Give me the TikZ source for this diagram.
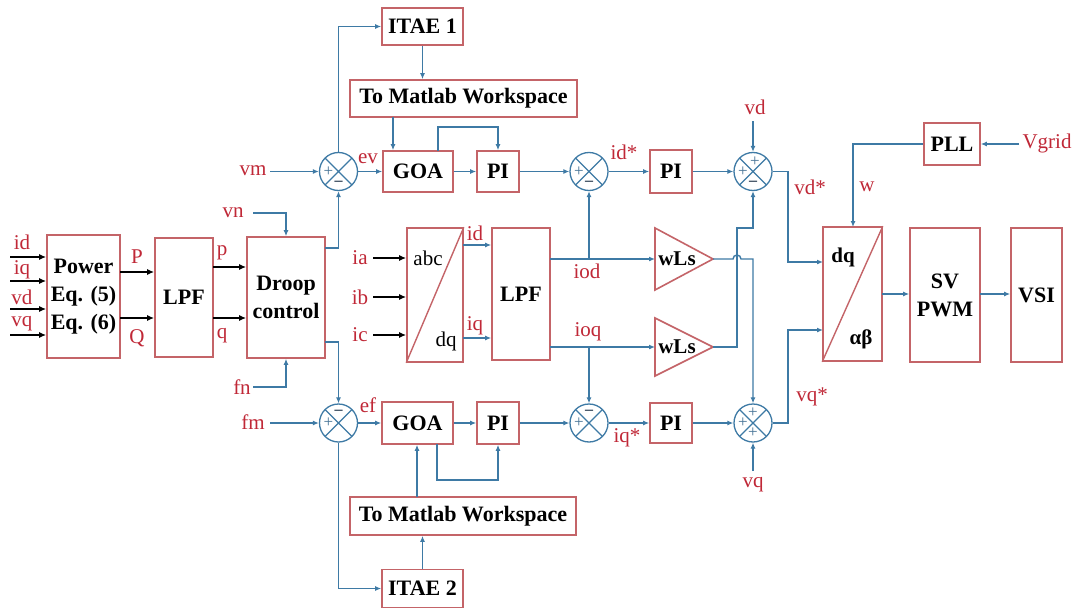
\documentclass[tikz,border=0pt]{standalone}
\usepackage{fontspec}
\setmainfont{Liberation Serif}
\usetikzlibrary{arrows.meta,calc}
\definecolor{boxred}{RGB}{196,100,104}
\definecolor{lblred}{RGB}{192,40,55}
\definecolor{lnblue}{RGB}{62,122,165}
\definecolor{sgnc}{RGB}{70,115,150}
\definecolor{mnc}{RGB}{40,60,80}
\begin{document}
\begin{tikzpicture}[x=1pt,y=-1pt,
 box/.style={draw=boxred,line width=1.6pt,inner sep=0pt,align=center,font=\fontsize{22}{28}\selectfont\bfseries},
 lbl/.style={text=lblred,inner sep=0pt,font=\fontsize{21}{23}\selectfont},
 txt/.style={inner sep=0pt,font=\fontsize{21}{23}\selectfont},
 btxt/.style={inner sep=0pt,font=\fontsize{21}{23}\selectfont\bfseries},
 arr/.style={draw=lnblue,line width=1.4pt,-{Latex[length=6pt,width=5pt]}},
 barr/.style={draw=black,line width=1.5pt,-{Latex[length=7pt,width=6pt]}},
 sumc/.style={circle,draw=lnblue,line width=1.3pt,minimum size=38pt,inner sep=0pt,
   path picture={\draw[lnblue,line width=1.1pt] (path picture bounding box.north west) -- (path picture bounding box.south east)
   (path picture bounding box.south west) -- (path picture bounding box.north east);}},
 sgn/.style={text=sgnc,inner sep=0pt,font=\fontsize{17}{17}\selectfont},
 mns/.style={text=mnc,inner sep=0pt,font=\fontsize{16}{16}\selectfont\bfseries},
]
\path[use as bounding box,fill=white] (0,0) rectangle (1076,610);

% boxes
\node[box,minimum width=73pt,minimum height=123pt] (pow) at (83.5,296.5) {Power\\Eq. (5)\\Eq. (6)};
\node[box,minimum width=58pt,minimum height=119pt] (lpfa) at (184,297.5) {LPF};
\node[box,minimum width=78pt,minimum height=121pt] (droop) at (286,297.5) {Droop\\control};
\node[box,minimum width=81pt,minimum height=37pt] (itaea) at (422.5,26.5) {ITAE 1};
\node[box,minimum width=227pt,minimum height=37pt] (mata) at (463.5,98.5) {To Matlab Workspace};
\node[box,minimum width=70pt,minimum height=41pt] (goaa) at (418,171.5) {GOA};
\node[box,minimum width=42pt,minimum height=41pt] (pia) at (498,171.5) {PI};
\node[box,minimum width=42pt,minimum height=43pt] (pib) at (671,171.5) {PI};
\node[box,minimum width=71pt,minimum height=42pt] (goab) at (417.5,423) {GOA};
\node[box,minimum width=42pt,minimum height=42pt] (pic) at (498,423) {PI};
\node[box,minimum width=226pt,minimum height=38pt] (matb) at (463,516) {To Matlab Workspace};
\node[box,minimum width=81pt,minimum height=38pt] (itaeb) at (422.5,588.5) {ITAE 2};
\node[box,minimum width=42pt,minimum height=40pt] (pid) at (671,423) {PI};
\node[box,minimum width=56pt,minimum height=134pt] (abc) at (435,295) {};
\node[box,minimum width=58pt,minimum height=132pt] (lpfb) at (521,294) {LPF};
\node[box,minimum width=56pt,minimum height=42pt] (pll) at (952,144) {PLL};
\node[box,minimum width=59pt,minimum height=134pt] (dqab) at (852.5,294) {};
\node[box,minimum width=70pt,minimum height=134pt] (svpwm) at (945,295) {SV\\PWM};
\node[box,minimum width=51pt,minimum height=134pt] (vsi) at (1036.5,295) {VSI};

\draw[draw=boxred,line width=1.4pt] (abc.south west) -- (abc.north east);
\draw[draw=boxred,line width=1.4pt] (dqab.south west) -- (dqab.north east);
\node[txt] (tabc) at (428,258) {abc};
\node[txt] (tdq) at (446,341) {dq};
\node[btxt] (tdq2) at (843,257) {dq};
\node[btxt] (tab) at (861,339) {αβ};

% triangles
\draw[draw=boxred,line width=1.6pt] (655,228) -- (713,259) -- (655,290) -- cycle;
\draw[draw=boxred,line width=1.6pt] (655,318) -- (713,347) -- (655,376) -- cycle;
\node[btxt] (wla) at (677,259) {wLs};
\node[btxt] (wlb) at (677,347) {wLs};
\coordinate (wlain) at (655,259);
\coordinate (wlaout) at (713,259);
\coordinate (wlbin) at (655,347);
\coordinate (wlbout) at (713,347);

% sums
\node[sumc] (sa) at (338.5,171.5) {};
\node[sumc] (sb) at (589,171.5) {};
\node[sumc] (sc) at (753,171.5) {};
\node[sumc] (sd) at (338.5,423) {};
\node[sumc] (se) at (589,423) {};
\node[sumc] (sf) at (753,423) {};
\node[sgn] at ([xshift=-10pt]sa.center) {+};
\node[mns] at ([yshift=-12pt]sa.center) {–};
\node[sgn] at ([xshift=-10pt]sb.center) {+};
\node[mns] at ([yshift=-12pt]sb.center) {–};
\node[sgn] at ([xshift=-10pt]sc.center) {+};
\node[sgn] at ([xshift=2pt,yshift=10pt]sc.center) {+};
\node[mns] at ([yshift=-12pt]sc.center) {–};
\node[sgn] at ([xshift=-10pt]sd.center) {+};
\node[mns] at ([yshift=11pt]sd.center) {–};
\node[sgn] at ([xshift=-10pt]se.center) {+};
\node[mns] at ([yshift=11pt]se.center) {–};
\node[sgn] at ([xshift=-10pt]sf.center) {+};
\node[sgn] at ([yshift=10pt]sf.center) {+};
\node[sgn] at ([yshift=-10pt]sf.center) {+};

% left inputs
\node[lbl] at (22,242) {id};
\node[lbl] at (22,270) {iq};
\node[lbl] at (22,297) {vd};
\node[lbl] at (22,324) {vq};
\coordinate (ina) at (10,257);
\coordinate (inb) at (10,281);
\coordinate (inc) at (10,309);
\coordinate (ind) at (10,335);
\draw[barr] (ina) -- (ina -| pow.west);
\draw[barr] (inb) -- (inb -| pow.west);
\draw[barr] (inc) -- (inc -| pow.west);
\draw[barr] (ind) -- (ind -| pow.west);

\coordinate (pP) at (120,272);
\coordinate (pQ) at (120,318);
\draw[barr] (pP) -- (pP -| lpfa.west);
\draw[barr] (pQ) -- (pQ -| lpfa.west);
\node[lbl] at (137,257) {P};
\node[lbl] at (137,338) {Q};
\coordinate (lp) at (213,267);
\coordinate (lq) at (213,318);
\draw[barr] (lp) -- (lp -| droop.west);
\draw[barr] (lq) -- (lq -| droop.west);
\node[lbl] at (222,253) {p};
\node[lbl] at (222,336) {q};

% vn, fn
\node[lbl] (vn) at (233,213) {vn};
\node[lbl] (fn) at (242,387) {fn};
\coordinate (vnin) at (253,213);
\coordinate (fnin) at (253,387);
\draw[arr] (vnin) -| (droop.north);
\draw[arr] (fnin) -| (droop.south);

% droop outputs
\coordinate (dra) at (325,248);
\coordinate (drb) at (325,342);
\draw[arr] (dra) -| (sa.south);
\draw[arr] (drb) -| (sd.north);

% vm, fm
\node[lbl] (vm) at (253,171) {vm};
\node[lbl] (fm) at (253,422) {fm};
\coordinate (vmin) at (270,171.5);
\coordinate (fmin) at (270,423);
\draw[arr] (vmin) -- (sa.west);
\draw[arr] (fmin) -- (sd.west);

% top row
\draw[arr] (sa.east) -- (goaa.west);
\node[lbl] at (368,159) {ev};
\draw[arr] (sa.north) |- (itaea.west);
\draw[arr] (itaea.south) -- (itaea.south |- mata.north);
\coordinate (mao) at (393,117);
\draw[arr] (mao) -- (mao |- goaa.north);
\draw[arr] (goaa) -- (pia);
\coordinate (gaf) at (438,151);
\draw[arr] (gaf) -- (438,127) -| (pia.north);
\draw[arr] (pia.east) -- (sb.west);
\draw[arr] (sb.east) -- (pib.west);
\node[lbl] at (624,152) {id*};
\draw[arr] (pib.east) -- (sc.west);
\node[lbl] (vdt) at (755,107) {vd};
\coordinate (vdin) at (753,121);
\draw[arr] (vdin) -- (sc.north);
\coordinate (dqina) at (823,262);
\draw[arr] (sc.east) -- (788,171.5) |- (dqina);
\node[lbl] at (810,187) {vd*};

% bottom row
\draw[arr] (sd.east) -- (goab.west);
\node[lbl] at (368,405) {ef};
\draw[arr] (sd.south) |- (itaeb.west);
\draw[arr] (itaeb.north) -- (itaeb.north |- matb.south);
\coordinate (mbo) at (417,497);
\draw[arr] (mbo) -- (mbo |- goab.south);
\draw[arr] (goab) -- (pic);
\coordinate (gbf) at (437,444);
\draw[arr] (gbf) -- (437,480) -| (pic.south);
\draw[arr] (pic.east) -- (se.west);
\draw[arr] (se.east) -- (pid.west);
\node[lbl] at (627,438) {iq*};
\draw[arr] (pid.east) -- (sf.west);
\node[lbl] (vqt) at (753,485) {vq};
\coordinate (vqin) at (753,471);
\draw[arr] (vqin) -- (sf.south);
\coordinate (dqinb) at (823,330);
\draw[arr] (sf.east) -- (788,423) |- (dqinb);
\node[lbl] at (812,397) {vq*};

% middle
\node[lbl] at (360,258) {ia};
\node[lbl] at (360,297) {ib};
\node[lbl] at (360,335) {ic};
\coordinate (iaa) at (373,258);
\coordinate (iba) at (373,297);
\coordinate (ica) at (373,335);
\draw[barr] (iaa) -- (iaa -| abc.west);
\draw[barr] (iba) -- (iba -| abc.west);
\draw[barr] (ica) -- (ica -| abc.west);
\coordinate (abid) at (463,245);
\coordinate (abiq) at (463,338);
\draw[arr] (abid) -- (abid -| lpfb.west);
\draw[arr] (abiq) -- (abiq -| lpfb.west);
\node[lbl] at (475,233) {id};
\node[lbl] at (475,326) {iq};
\coordinate (lbd) at (550,259);
\coordinate (lbq) at (550,347);
\draw[arr] (lbd) -- (wlain);
\draw[arr] (lbq) -- (wlbin);
\node[lbl] at (587,271) {iod};
\node[lbl] at (588,332) {ioq};
\coordinate (jd) at (589,259);
\coordinate (jq) at (589,347);
\draw[arr] (jd) -- (sb.south);
\draw[arr] (jq) -- (se.north);

% cross coupling
\draw[arr] (wlbout) -- (737,347) -- (737,228) -| (sc.south);
\draw[arr] (wlaout) -- (733,259) arc[start angle=180,end angle=360,radius=4] -- (753,259) -- (sf.north);

% right side
\node[lbl] (vg) at (1047,143) {Vgrid};
\coordinate (vgin) at (1019,144);
\draw[arr] (vgin) -- (pll.east);
\coordinate (dqtop) at (853,227);
\draw[arr] (pll.west) -| (dqtop);
\node[lbl] at (867,187) {w};
\coordinate (dqo) at (882,294);
\draw[arr] (dqo) -- (dqo -| svpwm.west);
\coordinate (svo) at (980,294);
\draw[arr] (svo) -- (svo -| vsi.west);
\end{tikzpicture}
\end{document}
